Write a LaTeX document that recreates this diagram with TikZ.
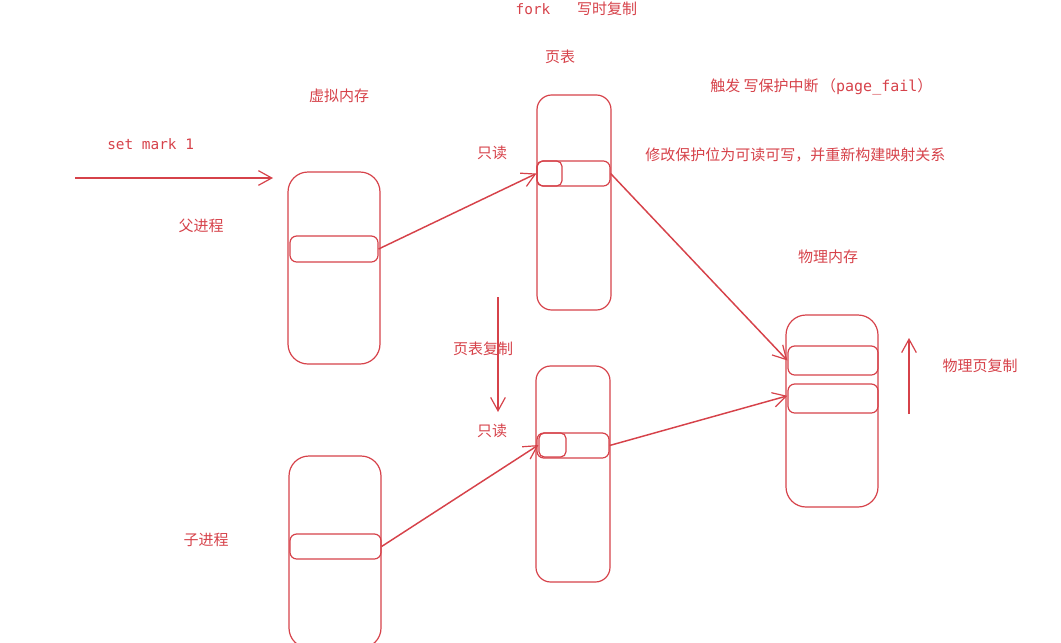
\documentclass[tikz,border=0pt]{standalone}
\usepackage{fontspec}
\setmonofont{DejaVu Sans Mono}
\newfontfamily\cjk{Noto Sans CJK SC}
\usetikzlibrary{arrows.meta}
\definecolor{sk}{RGB}{214,66,74}
\tikzset{
  box/.style={draw=sk, line width=0.9pt, rounded corners=#1, inner sep=0pt},
  box/.default=15pt,
  lbl/.style={text=sk, font=\cjk\fontsize{11.25pt}{13pt}\selectfont, inner sep=0pt},
  mono/.style={text=sk, font=\ttfamily\fontsize{10.8pt}{13pt}\selectfont, inner sep=0pt},
  conn/.style={draw=sk, line width=1.1pt, -{Straight Barb[length=10pt,width=11pt,line width=0.9pt]}},
}
\begin{document}
\begin{tikzpicture}[x=0.75pt,y=-0.75pt]
\useasboundingbox (0,0) rectangle (1061,643);
% titles
\node[mono] (fork) at (533,9) {fork};
\node[lbl] (cow) at (607,9) {写时复制};
\node[lbl] (pt) at (560,57) {页表};
\node[lbl, anchor=west] (trig) at (710,87) {触发 写保护中断\,（\texttt{page\_fail}）};
\node[lbl, anchor=west] (mod) at (645,155) {修改保护位为可读可写，并重新构建映射关系};
\node[lbl] (vm) at (339,96) {虚拟内存};
\node[mono, anchor=west] (mark) at (107,144) {set mark 1};
\node[lbl] (par) at (201,226) {父进程};
\node[lbl] (ro1) at (492,153) {只读};
\node[lbl] (ptc) at (483,349) {页表复制};
\node[lbl] (ro2) at (492,431) {只读};
\node[lbl] (chi) at (206,540) {子进程};
\node[lbl] (pm) at (828,257) {物理内存};
\node[lbl] (ppc) at (980,366) {物理页复制};
% parent virtual memory
\node[box, minimum width=69pt, minimum height=144pt] (pvm) at (334,268) {};
\node[box=5pt, minimum width=66pt, minimum height=19.5pt] (pvms) at (334,249) {};
% page table 1
\node[box=11pt, minimum width=55.5pt, minimum height=161.25pt] (pt1) at (574,202.5) {};
\node[box=5pt, minimum width=54.75pt, minimum height=18.75pt] (pt1s) at (573.5,173.5) {};
\node[box=4pt, minimum width=18.75pt, minimum height=18.75pt] (pt1c) at (549.5,173.5) {};
% page table 2
\node[box=11pt, minimum width=55.5pt, minimum height=162pt] (pt2) at (573,474) {};
\node[box=5pt, minimum width=54pt, minimum height=18.75pt] (pt2s) at (573,445.5) {};
\node[box=4pt, minimum width=20.25pt, minimum height=18pt] (pt2c) at (552.5,445) {};
% child virtual memory
\node[box, minimum width=69pt, minimum height=144pt] (cvm) at (335,552) {};
\node[box=5pt, minimum width=68.25pt, minimum height=18.75pt] (cvms) at (335.5,546.5) {};
% physical memory
\node[box, minimum width=69pt, minimum height=144pt] (phy) at (832,411) {};
\node[box=5pt, minimum width=67.5pt, minimum height=21.75pt] (phy1) at (833,360.5) {};
\node[box=5pt, minimum width=67.5pt, minimum height=21.75pt] (phy2) at (833,398.5) {};
% free-end coordinates
\coordinate (a0) at (75,178);
\coordinate (a1) at (273,178);
\coordinate (d0) at (498,297);
\coordinate (d1) at (498,412);
\coordinate (u0) at (909,414);
\coordinate (u1) at (909,338);
% connectors
\draw[conn] (a0) -- (a1);
\draw[conn] (d0) -- (d1);
\draw[conn] (u0) -- (u1);
\draw[conn] (pvms.east) -- (pt1c.west);
\draw[conn] (cvms.east) -- (pt2c.west);
\draw[conn] (pt1s.east) -- (phy1.west);
\draw[conn] (pt2s.east) -- ([yshift=2pt]phy2.west);
\end{tikzpicture}
\end{document}
